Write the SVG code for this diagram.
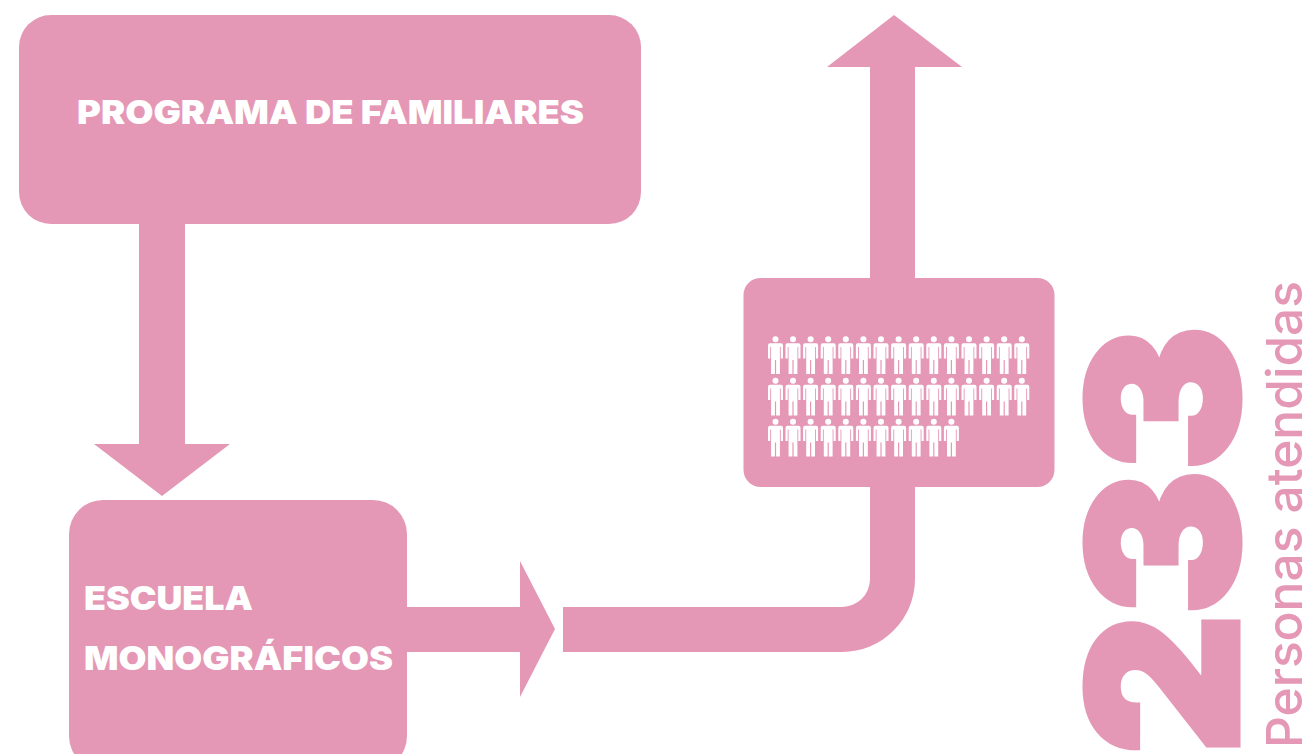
<svg xmlns="http://www.w3.org/2000/svg" width="1309" height="754" viewBox="0 0 1309 754">
<style>
.s{fill:#e598b6}
.t{font-family:Inter,"Liberation Sans",sans-serif;font-weight:900;fill:#fff;font-size:33px}
.n{font-family:Inter,"Liberation Sans",sans-serif;font-weight:900;fill:#e598b6;stroke:#e598b6;stroke-width:7px;stroke-linejoin:miter;font-size:205px}
.l{font-family:Inter,"Liberation Sans",sans-serif;font-weight:500;fill:#e598b6;font-size:50px}
.p{fill:#fff}
</style>
<defs>
<g id="person">
<circle cx="0" cy="3.2" r="3" class="p"/>
<path class="p" d="M-5.5 7.3H5.5Q7.5 7.3 7.5 9.3V22.5H5.3V11H4.4V38H0.6V24H-0.6V38H-4.4V11H-5.3V22.5H-7.5V9.3Q-7.5 7.3 -5.5 7.3Z"/>
</g>
</defs>
<rect width="1309" height="754" fill="#fff"/>
<g id="connectors">
<path class="s" d="M139 220H185V444H230L162 496L94 444H139Z"/>
<path class="s" d="M400 607H520V561L555 629L520 697V652H400Z"/>
<path class="s" d="M563 607H842A28 28 0 0 0 870 579V67H827L894 15L962 67H915V579A73 73 0 0 1 842 652H563Z"/>
</g>
<g id="node-programa">
<rect class="s" x="19" y="15" width="622" height="209" rx="32"/>
<text class="t" x="77" y="124" textLength="507" lengthAdjust="spacingAndGlyphs">PROGRAMA DE FAMILIARES</text>
</g>
<g id="node-escuela">
<rect class="s" x="69" y="500" width="338" height="270" rx="34"/>
<text class="t" x="84" y="610" textLength="169" lengthAdjust="spacingAndGlyphs">ESCUELA</text>
<text class="t" x="84" y="670" textLength="309" lengthAdjust="spacingAndGlyphs">MONOGRÁFICOS</text>
</g>
<g id="node-personas">
<rect class="s" x="743.5" y="278" width="311" height="209" rx="17"/>
<g id="row1">
<use href="#person" x="775.5" y="336"/><use href="#person" x="793" y="336"/><use href="#person" x="810.6" y="336"/><use href="#person" x="828.2" y="336"/><use href="#person" x="845.8" y="336"/><use href="#person" x="863.4" y="336"/><use href="#person" x="881" y="336"/><use href="#person" x="898.6" y="336"/><use href="#person" x="916.2" y="336"/><use href="#person" x="933.8" y="336"/><use href="#person" x="951.4" y="336"/><use href="#person" x="969" y="336"/><use href="#person" x="986.6" y="336"/><use href="#person" x="1004.2" y="336"/><use href="#person" x="1021.8" y="336"/>
</g>
<g id="row2">
<use href="#person" x="775.5" y="377.5"/><use href="#person" x="793" y="377.5"/><use href="#person" x="810.6" y="377.5"/><use href="#person" x="828.2" y="377.5"/><use href="#person" x="845.8" y="377.5"/><use href="#person" x="863.4" y="377.5"/><use href="#person" x="881" y="377.5"/><use href="#person" x="898.6" y="377.5"/><use href="#person" x="916.2" y="377.5"/><use href="#person" x="933.8" y="377.5"/><use href="#person" x="951.4" y="377.5"/><use href="#person" x="969" y="377.5"/><use href="#person" x="986.6" y="377.5"/><use href="#person" x="1004.2" y="377.5"/><use href="#person" x="1021.8" y="377.5"/>
</g>
<g id="row3">
<use href="#person" x="775.5" y="418.5"/><use href="#person" x="793" y="418.5"/><use href="#person" x="810.6" y="418.5"/><use href="#person" x="828.2" y="418.5"/><use href="#person" x="845.8" y="418.5"/><use href="#person" x="863.4" y="418.5"/><use href="#person" x="881" y="418.5"/><use href="#person" x="898.6" y="418.5"/><use href="#person" x="916.2" y="418.5"/><use href="#person" x="933.8" y="418.5"/><use href="#person" x="951.4" y="418.5"/>
</g>
</g>
<g id="node-total">
<text class="n" transform="translate(1237 754) rotate(-90)" textLength="428" lengthAdjust="spacingAndGlyphs">233</text>
<text class="l" transform="translate(1302 748) rotate(-90)" textLength="467" lengthAdjust="spacingAndGlyphs">Personas atendidas</text>
</g>
</svg>
